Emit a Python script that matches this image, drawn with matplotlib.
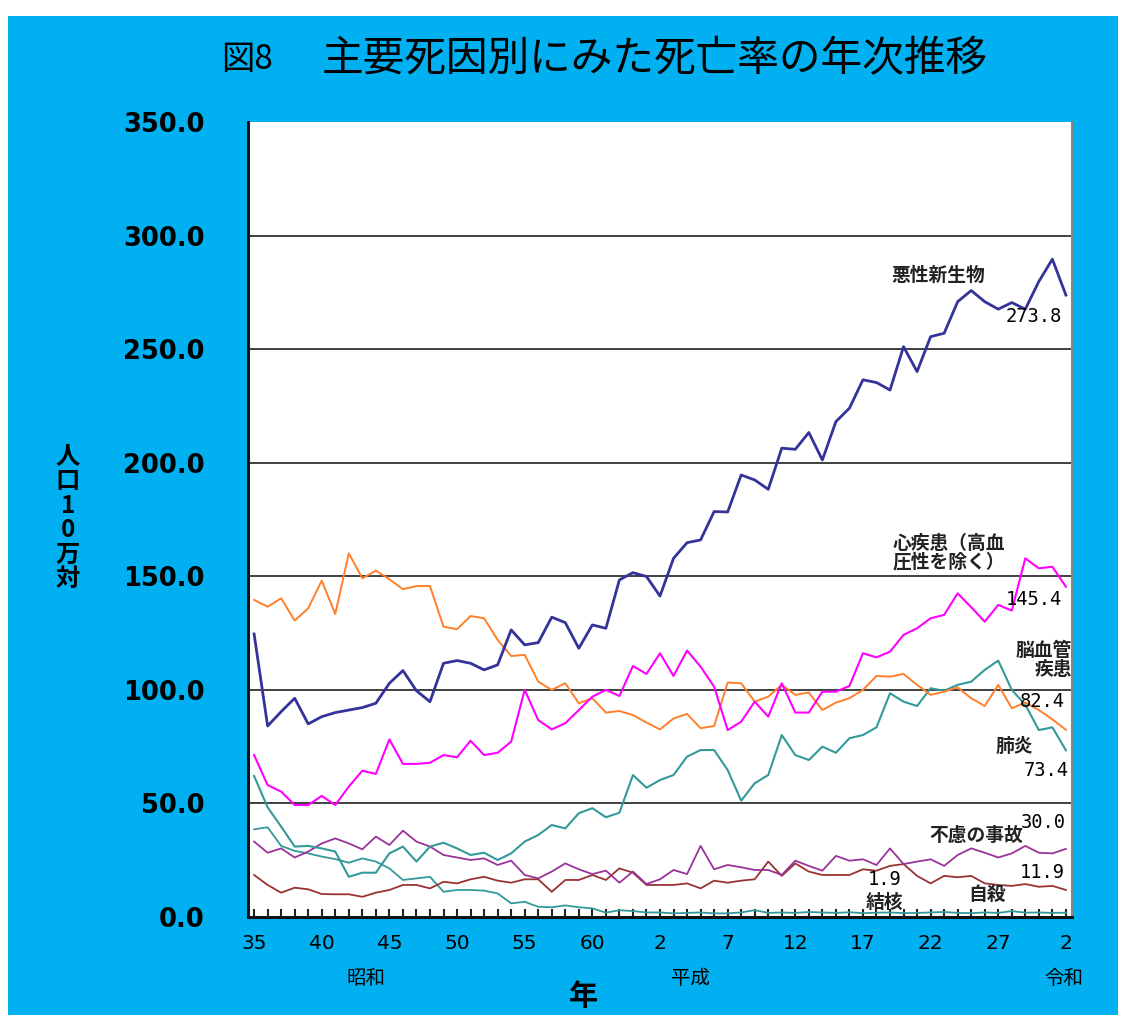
import matplotlib
matplotlib.use("Agg")
from matplotlib import pyplot as plt
from matplotlib.patches import Rectangle
import numpy as np

plt.rcParams['font.family'] = ['Noto Sans CJK JP', 'DejaVu Sans']

# 昭和35年(1960) ～ 令和2年(2020)
years = np.arange(61)
tick_pos = list(range(0, 61, 5))
tick_labels = ['35', '40', '45', '50', '55', '60', '2', '7', '12', '17', '22', '27', '2']

cancer = [124.6, 84.1, 90.4, 96.3, 85.0, 88.2, 90.0, 91.1, 92.2, 94.1,
          102.9, 108.5, 99.6, 94.8, 111.7, 112.9, 111.7, 108.8, 111.0, 126.4,
          119.8, 120.8, 132.0, 129.6, 118.3, 128.6, 127.1, 148.4, 151.6, 149.9,
          141.3, 157.9, 164.8, 166.0, 178.5, 178.3, 194.6, 192.4, 188.3, 206.4,
          205.9, 213.3, 201.2, 218.1, 224.0, 236.5, 235.3, 232.0, 251.1, 240.1,
          255.5, 257.0, 270.9, 275.8, 270.9, 267.6, 270.5, 267.6, 279.8, 289.6,
          273.8]
heart = [71.3, 58.1, 55.2, 49.3, 49.3, 53.3, 49.3, 57.4, 64.4, 63.0,
         78.2, 67.4, 67.4, 67.9, 71.3, 70.3, 77.6, 71.3, 72.3, 77.2,
         100.0, 86.7, 82.6, 85.3, 91.1, 97.0, 100.0, 97.3, 110.5, 107.0,
         116.1, 106.1, 117.3, 110.2, 101.4, 82.3, 86.0, 94.8, 88.2, 102.9,
         90.0, 90.0, 99.2, 99.2, 101.7, 116.1, 114.3, 116.8, 124.2, 127.1,
         131.5, 133.0, 142.5, 136.4, 130.0, 137.4, 134.9, 157.9, 153.5, 154.2,
         145.4]
stroke = [139.6, 136.6, 140.3, 130.5, 135.9, 148.1, 133.4, 160.1, 149.1, 152.5,
          148.7, 144.3, 145.7, 145.7, 127.8, 126.7, 132.5, 131.5, 122.0, 114.9,
          115.4, 103.6, 100.0, 102.9, 94.1, 96.3, 90.0, 90.7, 88.9, 85.6,
          82.6, 87.4, 89.4, 83.1, 84.1, 103.2, 102.9, 94.8, 97.0, 102.2,
          97.8, 98.8, 91.1, 94.4, 96.3, 100.0, 106.1, 105.8, 107.0, 102.2,
          97.8, 99.2, 101.1, 96.3, 92.9, 102.2, 91.9, 94.4, 91.1, 87.0,
          82.4]
pneumonia = [62.1, 48.3, 39.8, 31.0, 31.3, 30.2, 28.8, 17.7, 19.5, 19.5,
             28.0, 31.0, 24.4, 31.0, 32.7, 30.2, 27.3, 28.3, 25.1, 28.0,
             33.2, 36.1, 40.5, 39.0, 45.7, 47.9, 43.9, 45.9, 62.5, 56.9,
             60.3, 62.5, 70.6, 73.5, 73.5, 64.7, 51.2, 58.9, 62.5, 80.1,
             71.3, 69.1, 75.0, 72.3, 78.7, 80.1, 83.5, 98.5, 94.8, 92.9,
             100.7, 99.6, 102.2, 103.6, 108.8, 112.9, 100.0, 93.4, 82.3, 83.5,
             73.4]
tb = [38.6, 39.5, 31.3, 29.1, 28.0, 26.6, 25.5, 23.9, 25.8, 24.4,
      21.4, 16.3, 17.0, 17.7, 11.1, 11.9, 11.9, 11.6, 10.4, 6.0,
      6.7, 4.5, 4.3, 5.1, 4.3, 3.8, 1.9, 3.0, 2.6, 2.0,
      2.0, 1.6, 1.8, 2.0, 1.6, 1.6, 2.0, 3.0, 1.8, 2.0,
      1.8, 2.2, 2.0, 1.8, 2.1, 1.7, 1.9, 2.0, 1.7, 1.8,
      2.0, 2.2, 1.8, 1.7, 2.0, 1.8, 2.6, 1.9, 2.0, 1.8,
      1.9]
accident = [33.2, 28.3, 30.2, 26.2, 28.8, 32.4, 34.6, 32.4, 29.8, 35.4,
            31.7, 38.0, 33.2, 31.0, 27.3, 26.2, 25.1, 25.8, 22.9, 24.8,
            18.5, 17.0, 20.0, 23.6, 21.0, 18.9, 20.4, 15.1, 20.0, 14.5,
            16.6, 20.7, 18.9, 31.3, 21.0, 22.9, 21.9, 20.7, 20.7, 18.5,
            24.8, 22.5, 20.4, 26.9, 24.8, 25.4, 22.9, 30.2, 23.3, 24.4,
            25.4, 22.5, 27.3, 30.2, 28.3, 26.2, 28.0, 31.3, 28.3, 28.0,
            30.0]
suicide = [18.5, 14.1, 10.7, 12.9, 12.2, 10.1, 10.0, 10.0, 8.9, 10.7,
           11.9, 14.1, 14.1, 12.6, 15.5, 14.8, 16.6, 17.7, 16.0, 15.1,
           16.6, 16.6, 11.1, 16.3, 16.3, 18.5, 16.3, 21.4, 19.5, 14.1,
           14.1, 14.1, 14.8, 12.6, 16.0, 15.1, 16.0, 16.6, 24.4, 18.1,
           23.6, 20.0, 18.5, 18.5, 18.5, 21.0, 20.4, 22.5, 23.3, 18.1,
           14.8, 18.1, 17.5, 18.1, 14.8, 14.1, 13.7, 14.5, 13.3, 13.7,
           11.9]

BLUE_BG = '#00B0F0'
W, H = 1122, 1019

fig = plt.figure(figsize=(W / 100, H / 100), dpi=100, facecolor='white')
# 水色の枠
fig.patches.append(Rectangle((8 / W, 4 / H), 1110 / W, 999 / H,
                             transform=fig.transFigure, facecolor=BLUE_BG,
                             edgecolor='none', zorder=-10))

ax = fig.add_axes([248 / W, 1 - 917 / H, (1072 - 248) / W, (917 - 122) / H])
ax.set_facecolor('white')

ax.plot(years, tb, color='#339999', lw=1.3)
ax.plot(years, suicide, color='#993333', lw=1.3)
ax.plot(years, accident, color='#993399', lw=1.3)
ax.plot(years, pneumonia, color='#339999', lw=1.5)
ax.plot(years, stroke, color='#FF7F2A', lw=1.4)
ax.plot(years, heart, color='#FF00FF', lw=1.5)
ax.plot(years, cancer, color='#333399', lw=2.0)

ax.set_xlim(-0.45, 60.45)
ax.set_ylim(0, 350)
ax.set_yticks(np.arange(0, 351, 50))
ax.set_yticklabels(['%.1f' % v for v in np.arange(0, 351, 50)],
                   family='DejaVu Sans', fontweight='bold', fontsize=18.5)
ax.set_xticks(tick_pos)
ax.set_xticklabels(tick_labels, family='DejaVu Sans', fontsize=14.5)
ax.set_xticks(years, minor=True)
ax.tick_params(axis='x', which='both', direction='in', length=6, width=1.5,
               pad=12, color='#222222')
ax.tick_params(axis='y', direction='in', length=0, pad=31)

ax.grid(axis='y', color='#404040', lw=1.4)
ax.get_ygridlines()[-1].set_visible(False)
ax.get_ygridlines()[0].set_visible(False)
ax.set_axisbelow(True)

ax.spines['top'].set_visible(False)
ax.spines['left'].set_linewidth(2.2)
ax.spines['left'].set_color('#111111')
ax.spines['bottom'].set_linewidth(2.2)
ax.spines['bottom'].set_color('#111111')
ax.spines['right'].set_color('#888888')
ax.spines['right'].set_linewidth(1.5)

# 系列ラベル
jp = dict(fontsize=13.5, fontweight='bold', color='#222222')
num = dict(fontsize=13.5, family='DejaVu Sans Mono', color='black')
ax.text(50.6, 282.7, '悪性新生物', ha='center', va='center', **jp)
ax.text(59.7, 264.2, '%.1f' % cancer[-1], ha='right', va='center', **num)
ax.text(47.2, 160.3, '心疾患（高血\n圧性を除く）', ha='left', va='center',
        linespacing=1.0, **jp)
ax.text(59.7, 139.6, '%.1f' % heart[-1], ha='right', va='center', **num)
ax.text(60.45, 113.2, '脳血管\n疾患', ha='right', va='center',
        multialignment='right', linespacing=1.0, **jp)
ax.text(59.9, 94.7, '%.1f' % stroke[-1], ha='right', va='center', **num)
ax.text(56.2, 74.9, '肺炎', ha='center', va='center', **jp)
ax.text(60.2, 64.7, '%.1f' % pneumonia[-1], ha='right', va='center', **num)
ax.text(60.0, 41.8, '%.1f' % accident[-1], ha='right', va='center', **num)
ax.text(53.4, 36.1, '不慮の事故', ha='center', va='center', **jp)
ax.text(59.9, 19.4, '%.1f' % suicide[-1], ha='right', va='center', **num)
ax.text(46.6, 16.7, '%.1f' % tb[-1], ha='center', va='center', **num)
ax.text(54.2, 9.7, '自殺', ha='center', va='center', **jp)
ax.text(46.6, 6.2, '結核', ha='center', va='center', **jp)

# タイトル・軸ラベル
fig.text(247 / W, 1 - 60 / H, '図8', ha='center', va='center', fontsize=24)
fig.text(655 / W, 1 - 60 / H, '主要死因別にみた死亡率の年次推移',
         ha='center', va='center', fontsize=30)
fig.text(68 / W, 1 - 518 / H, '人\n口\n1\n0\n万\n対', ha='center', va='center',
         fontsize=17.5, fontweight='bold', linespacing=1.02)
fig.text(366 / W, 1 - 978 / H, '昭和', ha='center', va='center', fontsize=14)
fig.text(691 / W, 1 - 978 / H, '平成', ha='center', va='center', fontsize=14)
fig.text(1064 / W, 1 - 978 / H, '令和', ha='center', va='center', fontsize=14)
fig.text(583 / W, 1 - 996 / H, '年', ha='center', va='center', fontsize=21,
         fontweight='bold')

plt.savefig('out.png', dpi=100, facecolor=fig.get_facecolor())
